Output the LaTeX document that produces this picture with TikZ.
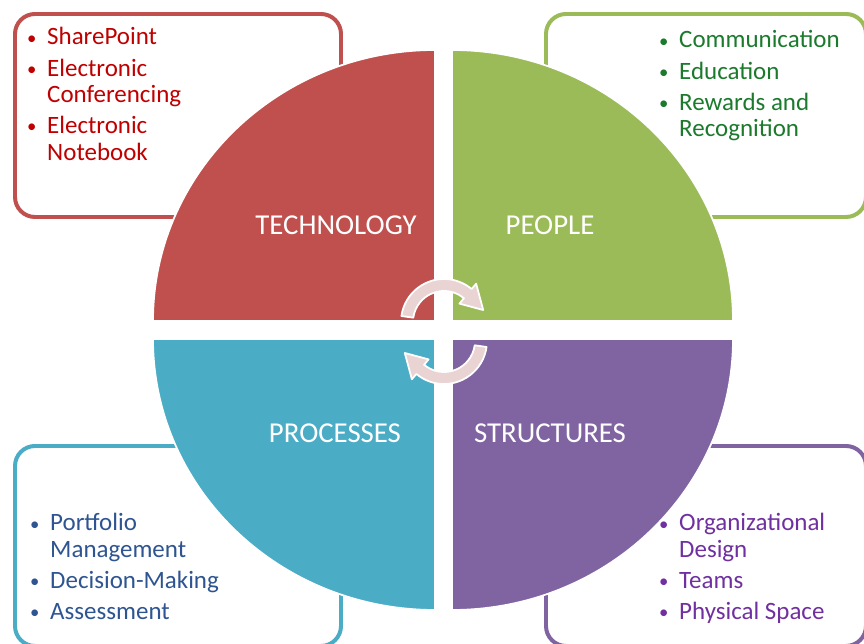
\documentclass[tikz,border=0pt]{standalone}
\usepackage{fontspec}
\setmainfont{Carlito}
\definecolor{rojo}{HTML}{C0504D}
\definecolor{verde}{HTML}{9BBB59}
\definecolor{azul}{HTML}{4BACC6}
\definecolor{morado}{HTML}{8064A2}
\definecolor{trojo}{HTML}{C00000}
\definecolor{tverde}{HTML}{1B7A2C}
\definecolor{tazul}{HTML}{2E5591}
\definecolor{tmorado}{HTML}{7030A0}
\definecolor{rosa}{HTML}{EAD3D3}
\newcommand{\pto}{\raisebox{0.8pt}{\scalebox{0.75}{\textbullet}}}
\tikzset{
  caja/.style={rounded corners=0.6cm, line width=3.4pt, fill=white},
  cuarto/.style={draw=white, line width=1.5pt},
  lista/.style={anchor=base west, inner sep=0pt, font=\fontsize{21.3}{22.6}\selectfont},
  titulo/.style={anchor=base, inner sep=0pt, text=white, font=\fontsize{24.6}{28}\selectfont},
  flecha/.style={fill=rosa, draw=white, line width=1.5pt, line join=round}
}
\begin{document}
\begin{tikzpicture}[x=0.03cm, y=0.03cm]
   \useasboundingbox (0,0) rectangle (864,644);
   %cajas
   \draw[caja, draw=rojo] (15,427) rectangle (341,630);
   \draw[caja, draw=verde] (546,427) rectangle (866,630);
   \draw[caja, draw=azul] (15,-2) rectangle (341,198);
   \draw[caja, draw=morado] (546,-2) rectangle (866,198);
   %cuadrantes
   \filldraw[cuarto, fill=rojo] (435,323) -- (153,323) arc[start angle=180, end angle=90, x radius=282, y radius=271] -- cycle;
   \filldraw[cuarto, fill=verde] (452,323) -- (452,594) arc[start angle=90, end angle=0, x radius=281, y radius=271] -- cycle;
   \filldraw[cuarto, fill=azul] (435,305) -- (153,305) arc[start angle=180, end angle=270, x radius=282, y radius=271] -- cycle;
   \filldraw[cuarto, fill=morado] (452,305) -- (733,305) arc[start angle=0, end angle=-90, x radius=281, y radius=271] -- cycle;
   %flechas
   \begin{scope}[shift={(444,322)}]
      \filldraw[flecha] (172:43) arc[start angle=172, end angle=50, radius=43] -- (50:50) -- (17:41) -- (50:24) -- (50:31) arc[start angle=50, end angle=172, radius=31] -- cycle;
   \end{scope}
   \begin{scope}[shift={(444,303)}]
      \filldraw[flecha] (352:43) arc[start angle=352, end angle=230, radius=43] -- (230:50) -- (197:41) -- (230:24) -- (230:31) arc[start angle=230, end angle=352, radius=31] -- cycle;
   \end{scope}
   %titulos
   \node[titulo] (tech) at (336,409) {TECHNOLOGY};
   \node[titulo] (people) at (550,409) {PEOPLE};
   \node[titulo] (proc) at (335,201) {PROCESSES};
   \node[titulo] (struct) at (550,201) {STRUCTURES};
   %listas
   \node[lista, text=trojo] (ltech) at (27,599) {\begin{tabular}[t]{@{}p{0.6cm}@{}l@{}}
      \pto & SharePoint\\[3.9pt]
      \pto & Electronic\\
           & Conferencing\\[3.9pt]
      \pto & Electronic\\
           & Notebook
   \end{tabular}};
   \node[lista, text=tverde] (lpeople) at (659,596) {\begin{tabular}[t]{@{}p{0.6cm}@{}l@{}}
      \pto & Communication\\[3.9pt]
      \pto & Education\\[3.9pt]
      \pto & Rewards and\\
           & Recognition
   \end{tabular}};
   \node[lista, text=tazul] (lproc) at (30,113) {\begin{tabular}[t]{@{}p{0.6cm}@{}l@{}}
      \pto & Portfolio\\
           & Management\\[3.9pt]
      \pto & Decision-Making\\[3.9pt]
      \pto & Assessment
   \end{tabular}};
   \node[lista, text=tmorado] (lstruct) at (659,113) {\begin{tabular}[t]{@{}p{0.6cm}@{}l@{}}
      \pto & Organizational\\
           & Design\\[3.9pt]
      \pto & Teams\\[3.9pt]
      \pto & Physical Space
   \end{tabular}};
\end{tikzpicture}
\end{document}
